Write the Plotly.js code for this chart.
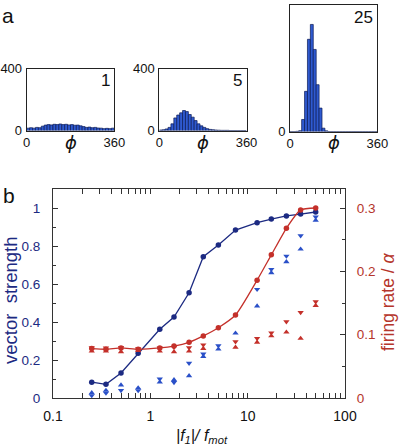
<!DOCTYPE html>
<html><head><meta charset="utf-8">
<script src="https://cdn.plot.ly/plotly-3.0.1.min.js"></script>
<style>html,body{margin:0;padding:0;background:#fff}#plot{width:400px;height:447px}</style>
</head><body><div id="plot"></div>
<script>
// ---------- panel a: phase histograms (12 deg bins) ----------
const phiCenters = [6,18,30,42,54,66,78,90,102,114,126,138,150,162,174,186,198,210,222,234,246,258,270,282,294,306,318,330,342,354];
const counts1  = [15,18,15,20,18,28,35,38,36,40,38,42,38,40,36,38,34,35,30,25,20,22,18,20,16,15,12,14,12,15];
const counts5  = [3,5,10,20,43,81,100,114,129,122,103,86,64,43,30,20,12,7,5,3,2,1,1,1,0,0,0,0,0,0];
const counts25 = [0,0,1,5,76,254,583,677,519,296,148,21,4,0,0,0,0,0,0,0,0,0,0,0,0,0,0,0,0,0];
const histLabels = ["1","5","25"];
const histYMax = [400,400,800];

// ---------- panel b ----------
const fRatio   = [0.25,0.35,0.5,0.75,1.25,1.75,2.5,3.5,5,7.5,12.5,17.5,25,35,50];
const vsCurve  = [0.083,0.072,0.132,0.235,0.362,0.426,0.554,0.744,0.805,0.884,0.923,0.942,0.958,0.968,0.979];
const rateCurve= [0.078,0.077,0.079,0.077,0.079,0.082,0.088,0.098,0.111,0.131,0.186,0.226,0.268,0.297,0.300];
const vsUp     = [0.027,0.040,0.068,0.053,0.083,0.096,0.117,0.218,0.257,0.341,0.484,0.659,0.717,0.783,0.935];
const vsDown   = [0.013,0.026,0.040,0.039,0.100,0.082,0.183,0.232,0.275,null,0.572,0.677,0.747,0.854,0.953];
const rateUp   = [0.074,0.074,0.073,0.075,0.074,0.073,0.074,0.078,null,0.080,0.088,0.098,0.104,0.094,0.146];
const rateDown = [0.0795,0.079,0.080,0.078,0.079,0.080,0.0795,0.084,null,0.089,0.094,0.103,0.1205,0.135,0.152];

const W = 400, H = 447;
const px = v => v / W;
const py = v => 1 - v / H;

const FONT = "Liberation Sans, Arial, Helvetica, sans-serif";
const NAVY = "#1c2a82", BLUE = "#2a50c8", RED = "#c4302a", REDTXT = "#b5352b";
const barFill = "#2f5ad0", barEdge = "#0c1a55";

const histBoxes = [
  {x:[26.7,114.3], y:[68.5,130.5]},
  {x:[159.3,246.5], y:[68.5,130.5]},
  {x:[290,377.3], y:[5,131.5]}
];
const histData = [counts1, counts5, counts25];

const traces = [];
const layout = {
  width: W, height: H,
  margin: {l:0, r:0, t:0, b:0},
  paper_bgcolor: "#fff", plot_bgcolor: "#fff",
  showlegend: false,
  bargap: 0,
  font: {family: FONT, size: 13, color: "#111"},
  annotations: []
};

histData.forEach((cnt, i) => {
  const n = i + 1;
  const xa = n === 1 ? "x" : "x" + n, ya = n === 1 ? "y" : "y" + n;
  traces.push({
    type: "bar", x: phiCenters, y: cnt, xaxis: xa, yaxis: ya,
    marker: {color: barFill, line: {color: barEdge, width: 0.7}},
    width: 12, hoverinfo: "skip"
  });
  const b = histBoxes[i];
  layout["xaxis" + (n === 1 ? "" : n)] = {
    domain: [px(b.x[0]), px(b.x[1])], anchor: ya, range: [0, 360],
    tickvals: [0, 360], ticktext: ["0", "360"], ticks: "", showline: true, mirror: true,
    linecolor: "#222", linewidth: 1, showgrid: false, zeroline: false,
    tickfont: {size: 13, color: "#111"}, ticklabelstandoff: 0
  };
  layout["yaxis" + (n === 1 ? "" : n)] = {
    domain: [py(b.y[1]), py(b.y[0])], anchor: xa, range: [0, histYMax[i]],
    tickvals: [0, histYMax[i]], ticks: "", showline: true, mirror: true,
    linecolor: "#222", linewidth: 1, showgrid: false, zeroline: false,
    tickfont: {size: 13, color: "#111"}, ticklabelstandoff: 1
  };
  layout.annotations.push({
    xref: "paper", yref: "paper", x: px(b.x[1] - 2), y: py(b.y[0] + 12),
    xanchor: "right", yanchor: "middle", text: histLabels[i], showarrow: false,
    font: {size: 17, color: "#111"}
  });
  layout.annotations.push({
    xref: "paper", yref: "paper", x: px((b.x[0] + b.x[1]) / 2), y: py(143),
    xanchor: "center", yanchor: "middle", text: "<i>ϕ</i>", showarrow: false,
    font: {size: 18, color: "#111", family: "DejaVu Sans, Liberation Sans, sans-serif"}
  });
});

// panel b traces
const triSize = 5.5;
traces.push({x: fRatio, y: rateUp, xaxis: "x4", yaxis: "y5", mode: "markers", type: "scatter",
  marker: {symbol: "triangle-up", size: triSize, color: RED}, hoverinfo: "skip"});
traces.push({x: fRatio, y: rateDown, xaxis: "x4", yaxis: "y5", mode: "markers", type: "scatter",
  marker: {symbol: "triangle-down", size: triSize, color: RED}, hoverinfo: "skip"});
traces.push({x: fRatio, y: vsUp, xaxis: "x4", yaxis: "y4", mode: "markers", type: "scatter",
  marker: {symbol: "triangle-up", size: triSize, color: BLUE}, hoverinfo: "skip"});
traces.push({x: fRatio, y: vsDown, xaxis: "x4", yaxis: "y4", mode: "markers", type: "scatter",
  marker: {symbol: "triangle-down", size: triSize, color: BLUE}, hoverinfo: "skip"});
traces.push({x: fRatio, y: rateCurve, xaxis: "x4", yaxis: "y5", mode: "lines+markers", type: "scatter",
  line: {color: RED, width: 1.3, shape: "spline", smoothing: 0.6}, marker: {size: 5.5, color: RED}, hoverinfo: "skip"});
traces.push({x: fRatio, y: vsCurve, xaxis: "x4", yaxis: "y4", mode: "lines+markers", type: "scatter",
  line: {color: NAVY, width: 1.3}, marker: {size: 5.5, color: NAVY}, hoverinfo: "skip"});

const bX = [53, 345], bY = [189, 398];
layout.xaxis4 = {
  domain: [px(bX[0]), px(bX[1])], anchor: "y4", type: "log", range: [-1, 2],
  tickvals: [0.1, 1, 10, 100], ticktext: ["0.1", "1", "10", "100"],
  ticks: "inside", ticklen: 5, tickcolor: "#333", showline: true, linecolor: "#333", linewidth: 1,
  mirror: "allticks", showgrid: false, zeroline: false,
  minor: {ticks: "inside", ticklen: 3, tickcolor: "#333",
          tickvals: [0.2,0.3,0.4,0.5,0.6,0.7,0.8,0.9,2,3,4,5,6,7,8,9,20,30,40,50,60,70,80,90], showgrid: false},
  tickfont: {size: 14, color: "#111"}, ticklabelstandoff: 5
};
layout.yaxis4 = {
  domain: [py(bY[1]), py(bY[0])], anchor: "x4", range: [0, 1.1],
  tickvals: [0, 0.2, 0.4, 0.6, 0.8, 1], ticktext: ["0", "0.2", "0.4", "0.6", "0.8", "1"],
  ticks: "inside", ticklen: 5, tickcolor: "#333", showline: true, linecolor: "#333", linewidth: 1,
  showgrid: false, zeroline: false,
  minor: {ticks: "inside", ticklen: 3, tickcolor: "#333", tickvals: [0.1, 0.3, 0.5, 0.7, 0.9], showgrid: false},
  tickfont: {size: 13.5, color: NAVY}, ticklabelstandoff: 9
};
layout.yaxis5 = {
  overlaying: "y4", side: "right", anchor: "x4", range: [0, 0.33],
  tickvals: [0, 0.1, 0.2, 0.3], ticktext: ["0", "0.1", "0.2", "0.3"],
  ticks: "inside", ticklen: 5, tickcolor: "#333", showline: true, linecolor: "#333", linewidth: 1,
  showgrid: false, zeroline: false,
  minor: {ticks: "inside", ticklen: 3, tickcolor: "#333", tickvals: [0.05, 0.15, 0.25], showgrid: false},
  tickfont: {size: 13.5, color: REDTXT}, ticklabelstandoff: 8
};

layout.annotations.push(
  {xref: "paper", yref: "paper", x: px(8), y: py(16), text: "a", showarrow: false,
   xanchor: "center", yanchor: "middle", font: {size: 21, color: "#111"}},
  {xref: "paper", yref: "paper", x: px(9), y: py(196), text: "b", showarrow: false,
   xanchor: "center", yanchor: "middle", font: {size: 21, color: "#111"}},
  {xref: "paper", yref: "paper", x: px(10), y: py(300), text: "vector  strength", showarrow: false,
   textangle: -90, xanchor: "center", yanchor: "middle", font: {size: 18.5, color: NAVY}},
  {xref: "paper", yref: "paper", x: px(388), y: py(302), text: "firing rate / <i>α</i>", showarrow: false,
   textangle: -90, xanchor: "center", yanchor: "middle", font: {size: 17.5, color: REDTXT}},
  {xref: "paper", yref: "paper", x: px(202), y: py(436), text: "<i>|f<sub>1</sub>|/ f<sub>mot</sub></i>", showarrow: false,
   xanchor: "center", yanchor: "middle", font: {size: 16, color: "#111"}}
);

Plotly.newPlot("plot", traces, layout, {staticPlot: true, displayModeBar: false});
</script></body></html>
